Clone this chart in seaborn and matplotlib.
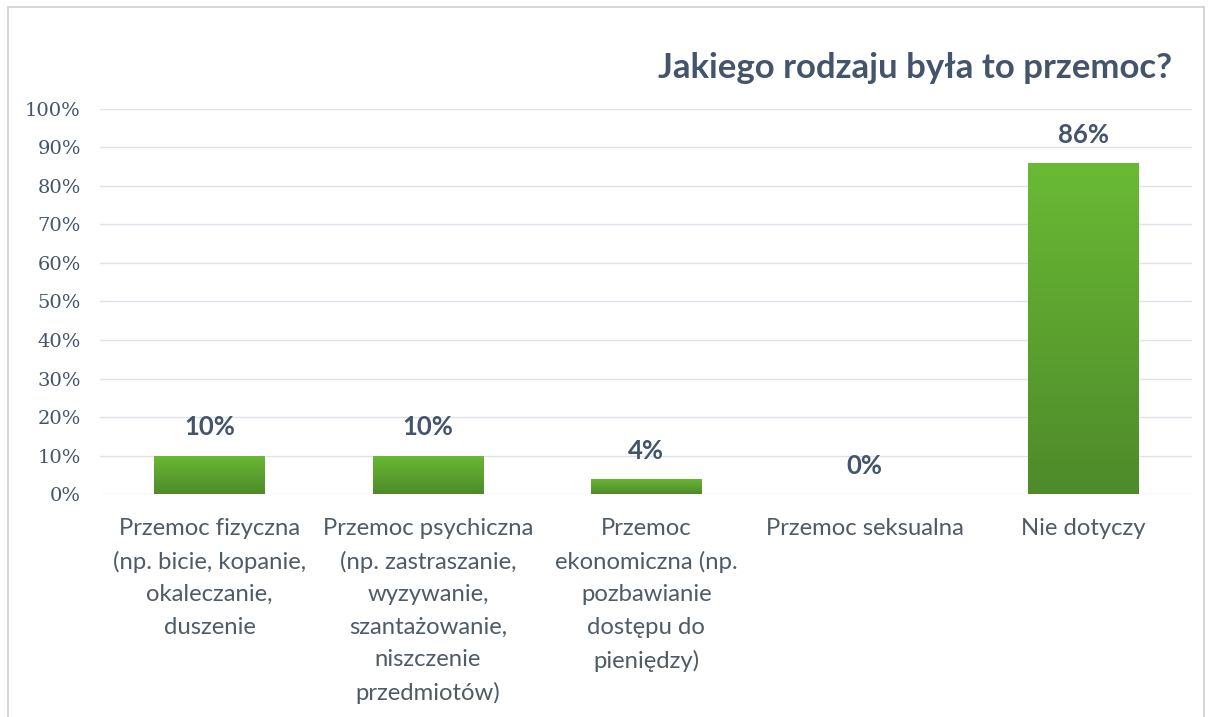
import numpy as np
import pandas as pd
import matplotlib.pyplot as plt
import seaborn as sns
from matplotlib.patches import Rectangle
from matplotlib.colors import LinearSegmentedColormap

# Data
categories = [
    'Przemoc fizyczna\n(np. bicie, kopanie,\nokaleczanie,\nduszenie',
    'Przemoc psychiczna\n(np. zastraszanie,\nwyzywanie,\nszantażowanie,\nniszczenie\nprzedmiotów)',
    'Przemoc\nekonomiczna (np.\npozbawianie\ndostępu do\npieniędzy)',
    'Przemoc seksualna',
    'Nie dotyczy',
]
values = [10, 10, 4, 0, 86]
title = 'Jakiego rodzaju była to przemoc?'

TEXT = '#44546a'
LABEL = '#4f5b66'

sns.set_theme(style='white')
plt.rcParams['font.family'] = ['Lato', 'DejaVu Sans']

df = pd.DataFrame({'cat': categories, 'val': values})

fig = plt.figure(figsize=(12.08, 7.17), dpi=100)
ax = fig.add_axes([0.083, 0.311, 0.904, 0.537])

sns.barplot(data=df, x='cat', y='val', color='#5ea531', width=0.505,
            saturation=1, ax=ax, zorder=3)

# gradient fill on bars
cmap = LinearSegmentedColormap.from_list('g', ['#4e8a2a', '#6aba35'])
grad = np.linspace(0, 1, 256).reshape(-1, 1)
for p in ax.patches:
    x0, y0 = p.get_x(), p.get_y()
    w, h = p.get_width(), p.get_height()
    if h <= 0:
        continue
    im = ax.imshow(grad, cmap=cmap, aspect='auto', origin='lower',
                   extent=[x0, x0 + w, y0, y0 + h], zorder=4)
    im.set_clip_path(p)
ax.set_xlim(-0.5, len(categories) - 0.5)
ax.set_ylim(0, 100)

# data labels
for i, v in enumerate(values):
    ax.text(i, v + 7.3, f'{v}%', ha='center', va='center', fontsize=18.5,
            fontweight='bold', color=TEXT, zorder=5)

ax.set_yticks(range(0, 101, 10))
ax.set_yticklabels([f'{t}%' for t in range(0, 101, 10)],
                   family='DejaVu Serif', fontsize=14, color=TEXT)
ax.yaxis.grid(True, color='#dde3ea', linewidth=1, zorder=0)
ax.tick_params(axis='y', length=0, pad=14)
ax.tick_params(axis='x', length=0, pad=17)
plt.setp(ax.get_xticklabels(), fontsize=17.2, color=LABEL, linespacing=1.67,
         va='top')
ax.set_xlabel('')
ax.set_ylabel('')
for s in ax.spines.values():
    s.set_visible(False)

fig.text(0.970, 0.905, title, ha='right', va='center', fontsize=25,
         fontweight='bold', color=TEXT)

# outer frame
fig.patches.append(Rectangle((0.007, -0.01), 0.99, 1.0, transform=fig.transFigure,
                             fill=False, edgecolor='#d0d0d0', linewidth=1.2))

fig.savefig('out.png', dpi=100)
